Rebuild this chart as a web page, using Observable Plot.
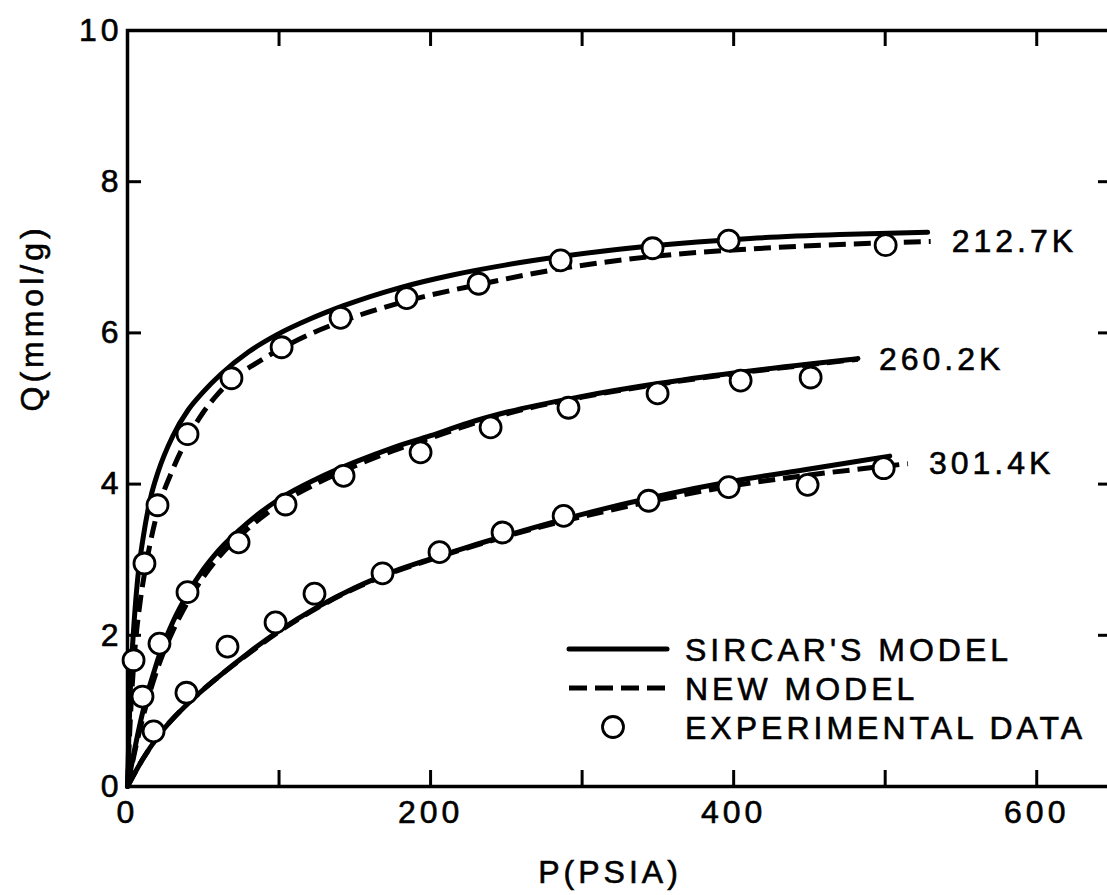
<!DOCTYPE html>
<html>
<head>
<meta charset="utf-8">
<script src="https://cdn.jsdelivr.net/npm/d3@7"></script>
<script src="https://cdn.jsdelivr.net/npm/@observablehq/plot@0.6"></script>
<style>
html, body { margin: 0; padding: 0; background: #fff; overflow: hidden; }
#chart svg text { letter-spacing: 4px; stroke: black; stroke-width: 0.6px; }
</style>
</head>
<body>
<div id="chart"></div>
<script>
// ---- axis ticks ----
const xLabelTicks = [0, 200, 400, 600];
const xTickMarks = [100, 200, 300, 400, 500, 600];
const yLabelTicks = [0, 2, 4, 6, 8, 10];
const yTickMarks = [2, 4, 6, 8];

// ---- series names ----
const temps = ["212.7K", "260.2K", "301.4K"];
const legendLabels = ["SIRCAR'S MODEL", "NEW MODEL", "EXPERIMENTAL DATA"];

// ---- experimental data (P in psia, Q in mmol/g) ----
const P_EXP_212 = [4.0, 11.2, 19.8, 39.6, 68.6, 101.7, 140.6, 184.2, 231.7, 285.8, 346.5, 396.7, 500.3];
const Q_EXP_212 = [1.67, 2.95, 3.72, 4.66, 5.40, 5.81, 6.20, 6.46, 6.65, 6.96, 7.12, 7.22, 7.16];
const P_EXP_260 = [9.9, 21.1, 39.6, 73.3, 104.3, 142.6, 193.4, 239.6, 291.0, 349.8, 404.6, 450.8];
const Q_EXP_260 = [1.19, 1.89, 2.57, 3.23, 3.73, 4.11, 4.42, 4.75, 5.01, 5.20, 5.37, 5.41];
const P_EXP_301 = [17.2, 38.9, 66.0, 97.7, 123.4, 168.3, 205.9, 247.5, 287.8, 343.9, 396.7, 448.8, 499.0];
const Q_EXP_301 = [0.73, 1.24, 1.85, 2.17, 2.55, 2.82, 3.10, 3.36, 3.58, 3.78, 3.96, 3.99, 4.21];

// ---- Sircar's model (solid) ----
const P_SIR_212 = [0, 1, 2, 3.3, 5, 7.3, 10, 15, 20, 30, 40, 50, 61.4, 80, 99, 120, 142.6, 180, 213, 250, 285.8, 345, 411, 470, 528];
const Q_SIR_212 = [0, 0.75, 1.35, 1.85, 2.35, 2.86, 3.25, 3.80, 4.15, 4.64, 4.98, 5.22, 5.45, 5.75, 5.98, 6.18, 6.36, 6.60, 6.76, 6.90, 7.01, 7.15, 7.25, 7.30, 7.33];
const P_SIR_260 = [0, 5, 10, 20, 30, 40, 50, 60, 80, 100, 125, 150, 175, 200, 225, 250, 300, 350, 400, 450, 482];
const Q_SIR_260 = [0, 0.52, 0.98, 1.68, 2.18, 2.56, 2.87, 3.12, 3.50, 3.80, 4.07, 4.29, 4.48, 4.64, 4.81, 4.95, 5.16, 5.33, 5.47, 5.59, 5.66];
const P_SIR_301 = [0, 10, 20, 40, 60, 80, 100, 125, 150, 175, 200, 225, 250, 300, 350, 400, 450, 503];
const Q_SIR_301 = [0, 0.36, 0.66, 1.10, 1.45, 1.77, 2.06, 2.37, 2.63, 2.84, 3.01, 3.17, 3.32, 3.60, 3.84, 4.04, 4.20, 4.37];

// ---- new model (dashed) ----
const P_NEW_212 = [0, 2, 4.5, 8.6, 11.5, 15, 20, 30, 40, 50, 60, 70, 85, 102, 120, 141, 184, 232, 286, 346, 411, 470, 530];
const Q_NEW_212 = [0, 0.95, 1.72, 2.48, 2.85, 3.22, 3.65, 4.20, 4.62, 4.95, 5.20, 5.40, 5.60, 5.80, 5.98, 6.15, 6.42, 6.64, 6.85, 7.01, 7.11, 7.17, 7.21];
const P_NEW_260 = [0, 5, 10, 20, 30, 40, 50, 60, 80, 100, 125, 150, 175, 200, 225, 250, 300, 350, 400, 450, 482];
const Q_NEW_260 = [0, 0.48, 0.90, 1.57, 2.06, 2.45, 2.77, 3.03, 3.42, 3.73, 4.01, 4.24, 4.44, 4.61, 4.78, 4.93, 5.15, 5.32, 5.46, 5.58, 5.65];
const P_NEW_301 = [0, 10, 20, 40, 60, 80, 100, 125, 150, 175, 200, 225, 250, 300, 350, 400, 450, 515];
const Q_NEW_301 = [0, 0.36, 0.66, 1.10, 1.45, 1.76, 2.05, 2.36, 2.62, 2.83, 3.00, 3.16, 3.31, 3.57, 3.79, 3.98, 4.12, 4.27];

// ---- tables built from the arrays ----
const rows = (T, P, Q) => P.map((p, i) => ({T, P: p, Q: Q[i]}));
const expData = [
  ...rows(temps[0], P_EXP_212, Q_EXP_212),
  ...rows(temps[1], P_EXP_260, Q_EXP_260),
  ...rows(temps[2], P_EXP_301, Q_EXP_301)
];
const sircar = [
  ...rows(temps[0], P_SIR_212, Q_SIR_212),
  ...rows(temps[1], P_SIR_260, Q_SIR_260),
  ...rows(temps[2], P_SIR_301, Q_SIR_301)
];
const newModel = [
  ...rows(temps[0], P_NEW_212, Q_NEW_212),
  ...rows(temps[1], P_NEW_260, Q_NEW_260),
  ...rows(temps[2], P_NEW_301, Q_NEW_301)
];

const FONT = "'Liberation Sans', Arial, Helvetica, sans-serif";
const DASH = "17,8";

// legend drawn inside the frame (render-function mark)
function legend(index, scales, values, dim) {
  const g = d3.create("svg:g")
    .attr("font-family", FONT).attr("font-size", 32)
    .attr("fill", "black").attr("text-anchor", "start");
  const x0 = dim.marginLeft;            // frame left
  const y0 = dim.marginTop;             // frame top
  const lx1 = x0 + 442, lx2 = x0 + 540, tx = x0 + 558;
  const rowsY = [y0 + 619, y0 + 658, y0 + 697];
  g.append("line").attr("x1", lx1).attr("x2", lx2).attr("y1", rowsY[0]).attr("y2", rowsY[0])
    .attr("stroke", "black").attr("stroke-width", 5).attr("stroke-linecap", "round");
  g.append("line").attr("x1", lx1).attr("x2", lx2).attr("y1", rowsY[1]).attr("y2", rowsY[1])
    .attr("stroke", "black").attr("stroke-width", 5).attr("stroke-dasharray", "18,8");
  g.append("circle").attr("cx", x0 + 486).attr("cy", rowsY[2]).attr("r", 10.5)
    .attr("fill", "white").attr("stroke", "black").attr("stroke-width", 2.8);
  legendLabels.forEach((t, i) => {
    g.append("text").attr("x", tx).attr("y", rowsY[i] + 11.5)
      .attr("text-anchor", "start").text(t);
  });
  return g.node();
}

const chart = Plot.plot({
  width: 1112,
  height: 895,
  marginLeft: 127,
  marginRight: 0,
  marginTop: 30,
  marginBottom: 109,
  x: {domain: [0, 650], label: null},
  y: {domain: [0, 10], label: null},
  style: {fontFamily: FONT, fontSize: "32px", color: "black", background: "white", maxWidth: "none"},
  marks: [
    Plot.frame({stroke: "black", strokeWidth: 3.5}),
    // inward tick marks on all four sides
    Plot.tickX(xTickMarks, {x: d => d, insetTop: 740, stroke: "black", strokeWidth: 3}),
    Plot.tickX(xTickMarks, {x: d => d, insetBottom: 740, stroke: "black", strokeWidth: 3}),
    Plot.tickY(yTickMarks, {y: d => d, insetRight: 971, stroke: "black", strokeWidth: 3}),
    Plot.tickY(yTickMarks, {y: d => d, insetLeft: 971, stroke: "black", strokeWidth: 3}),
    // tick labels
    Plot.axisX(xLabelTicks, {tickSize: 0, tickPadding: 14, fontSize: 32, label: null, tickFormat: d => String(d)}),
    Plot.axisY(yLabelTicks, {tickSize: 0, tickPadding: 5, fontSize: 32, label: null, tickFormat: d => String(d)}),
    // axis titles
    Plot.text(["P(PSIA)"], {text: d => d, frameAnchor: "bottom", lineAnchor: "top", dy: 74, dx: -10, fontSize: 32}),
    Plot.text(["Q(mmol/g)"], {text: d => d, frameAnchor: "left", rotate: -90, dx: -95, dy: 3, fontSize: 32}),
    // model curves
    Plot.line(sircar, {x: "P", y: "Q", z: "T", curve: "monotone-x", stroke: "black", strokeWidth: 5, strokeLinecap: "round"}),
    Plot.line(newModel, {x: "P", y: "Q", z: "T", curve: "monotone-x", stroke: "black", strokeWidth: 5, strokeDasharray: DASH, strokeLinecap: "butt"}),
    // curve labels at the end of each curve
    Plot.text(newModel, Plot.selectLast({x: "P", y: "Q", z: "T", text: "T", textAnchor: "start", dx: 21, fontSize: 32, fill: "black"})),
    // experimental points
    Plot.dot(expData, {x: "P", y: "Q", r: 10.5, fill: "white", stroke: "black", strokeWidth: 2.8}),
    legend
  ]
});
document.getElementById("chart").appendChild(chart);
</script>
</body>
</html>
